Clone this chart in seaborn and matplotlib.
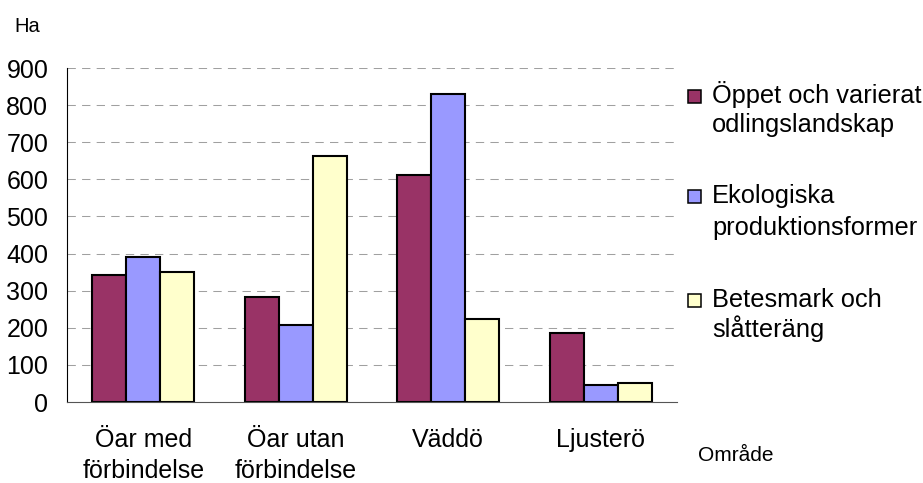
import matplotlib
matplotlib.use("Agg")
import matplotlib.pyplot as plt
from matplotlib.patches import Rectangle
import pandas as pd
import seaborn as sns

# Areas (ha) per island group and landscape/production type
omraden = ["Öar med\nförbindelse", "Öar utan\nförbindelse", "Väddö", "Ljusterö"]
typer = ["Öppet och varierat\nodlingslandskap",
         "Ekologiska\nproduktionsformer",
         "Betesmark och\nslåtteräng"]
oppet = [343, 284, 613, 187]
ekologiska = [391, 207, 830, 47]
betesmark = [350, 662, 225, 51]
farger = ["#993366", "#9999FF", "#FFFFCC"]
yticks = [0, 100, 200, 300, 400, 500, 600, 700, 800, 900]

rows = []
for typ, values in zip(typer, [oppet, ekologiska, betesmark]):
    for omr, v in zip(omraden, values):
        rows.append({"Område": omr, "Ha": v, "Typ": typ})
df = pd.DataFrame(rows)

sns.set_style("white")
plt.rcParams["font.family"] = ["Liberation Sans", "DejaVu Sans"]
plt.rcParams["text.color"] = "black"
plt.rcParams["xtick.labelcolor"] = "black"
plt.rcParams["ytick.labelcolor"] = "black"

W, H = 923, 483
fig = plt.figure(figsize=(W / 100, H / 100), dpi=100)
ax = fig.add_axes([67 / W, (H - 402) / H, 610 / W, 334 / H])

sns.barplot(data=df, x="Område", y="Ha", hue="Typ", order=omraden,
            hue_order=typer, palette=farger, saturation=1, width=0.667,
            edgecolor="black", linewidth=1.5, errorbar=None, legend=False,
            ax=ax, zorder=3)

ax.set_xlim(-0.5, len(omraden) - 0.5)
ax.set_ylim(0, 900)
ax.set_yticks(yticks)
ax.set_yticklabels([str(t) for t in yticks], fontsize=18, color="black")

# dashed horizontal grid
for t in yticks[1:]:
    ax.axhline(t, color="#A0A0A0", lw=0.75, ls=(0, (8, 6)), zorder=1)

# category labels centred under groups, tick marks on group boundaries
ax.set_xticks(range(len(omraden)))
ax.set_xticklabels(omraden, fontsize=18, linespacing=1.36, color="black")
ax.set_xticks([i - 0.5 for i in range(len(omraden) + 1)], minor=True)
ax.tick_params(axis="x", which="major", length=0, pad=18.5)
ax.tick_params(axis="x", which="minor", length=5.5, width=0.8,
               color="#555555", direction="out")
ax.tick_params(axis="y", length=4.5, width=0.8, color="black",
               direction="out", pad=9)

for s in ["top", "right"]:
    ax.spines[s].set_visible(False)
ax.spines["left"].set_color("black")
ax.spines["left"].set_linewidth(0.8)
ax.spines["bottom"].set_color("#555555")
ax.spines["bottom"].set_linewidth(0.8)
ax.spines["left"].set_zorder(4)
ax.spines["bottom"].set_zorder(4)

ax.set_xlabel("")
ax.set_ylabel("")
fig.text(14 / W, 1 - 32 / H, "Ha", fontsize=14.5, ha="left", va="baseline")
fig.text(698 / W, 1 - 460.7 / H, "Område", fontsize=15, ha="left",
         va="baseline")

# legend: square next to the first line of each two-line label
legend_baselines = [(103, 132), (203, 235), (307, 337)]
for farg, typ, (b1, b2) in zip(farger, typer, legend_baselines):
    l1, l2 = typ.split("\n")
    fig.patches.append(Rectangle((688 / W, 1 - b1 / H), 13 / W, 13 / H,
                                 transform=fig.transFigure, facecolor=farg,
                                 edgecolor="black", linewidth=1.1))
    fig.text(712 / W, 1 - b1 / H, l1, fontsize=18.3, ha="left", va="baseline")
    fig.text(712 / W, 1 - b2 / H, l2, fontsize=18.3, ha="left", va="baseline")

fig.savefig("out.png", dpi=100)
